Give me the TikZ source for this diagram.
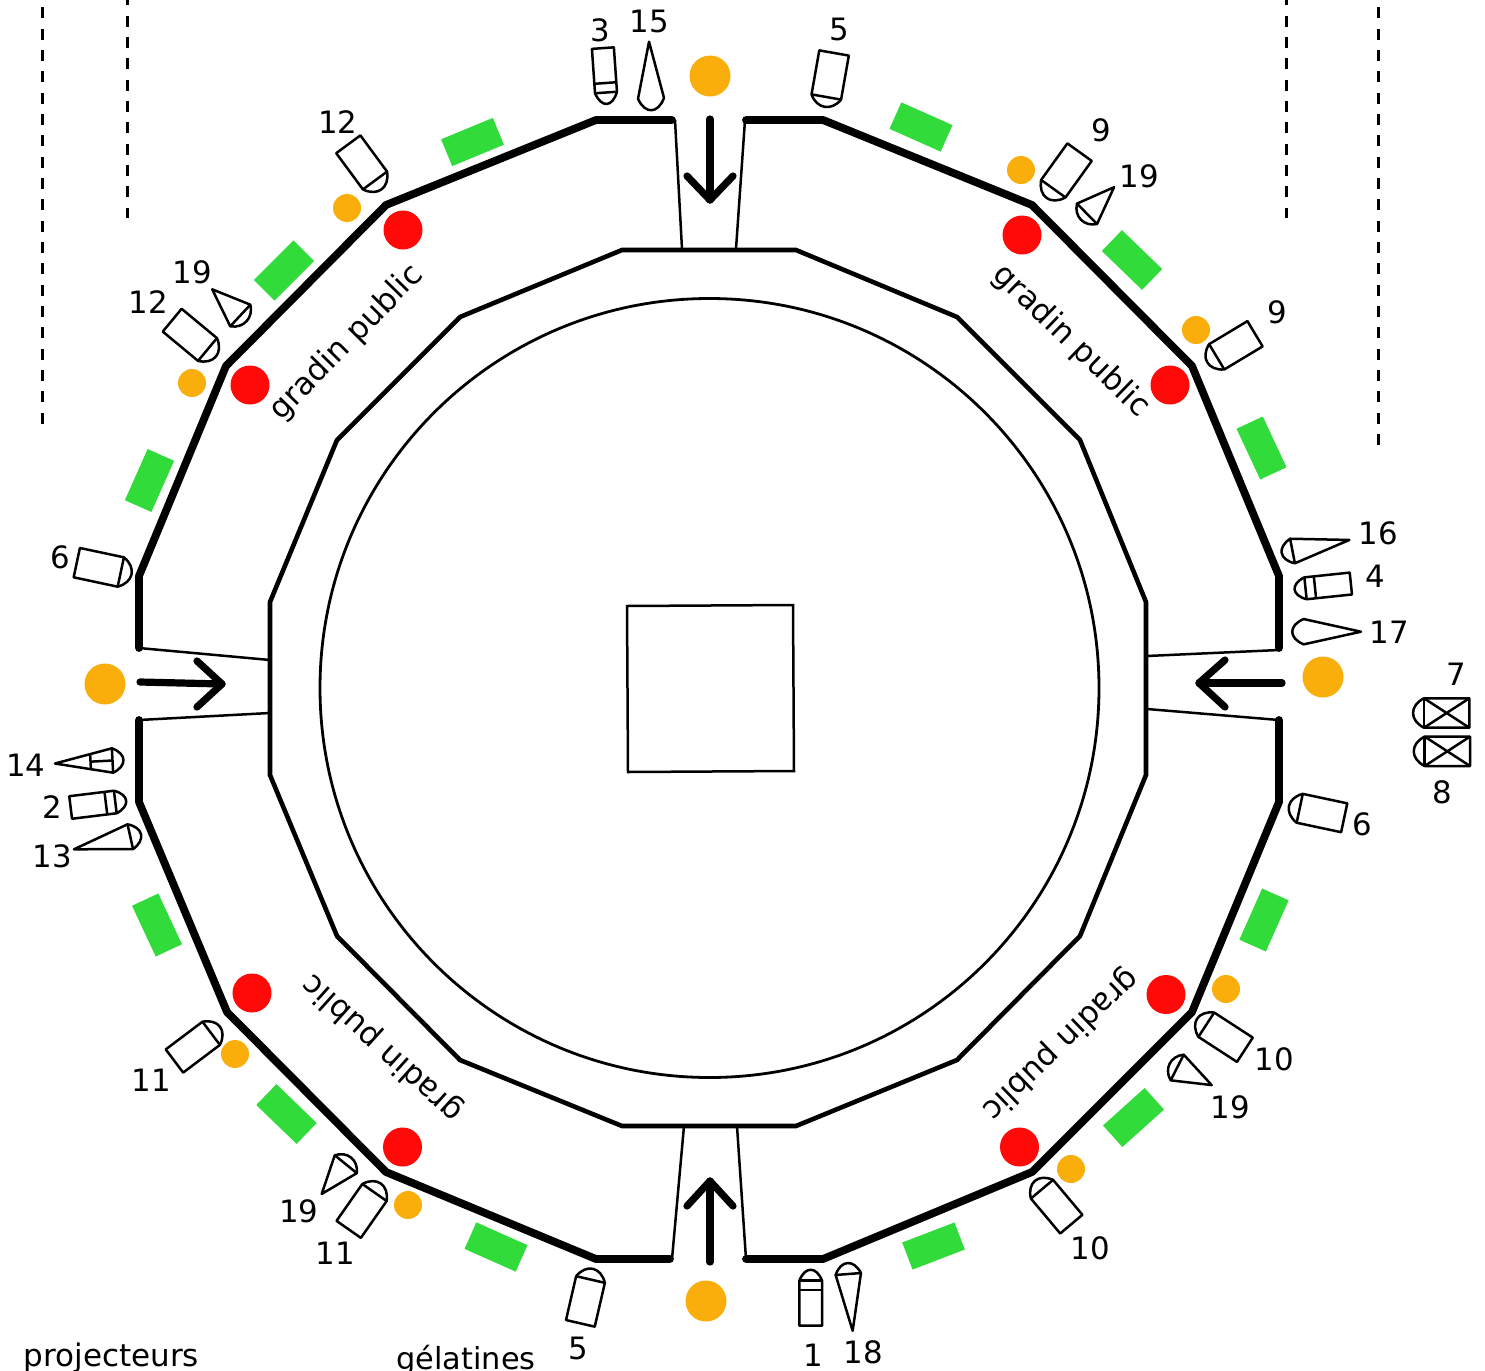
\documentclass[tikz,border=0pt]{standalone}
\usepackage{fontspec}
\setmainfont{DejaVu Sans}
\definecolor{amber}{HTML}{F9AE0C}
\definecolor{redlamp}{HTML}{FF0909}
\definecolor{gel}{HTML}{31DC3A}
\tikzset{
  wall/.style={line width=3.9pt,line cap=round,line join=round},
  inner wall/.style={line width=2.3pt,line join=miter},
  thin wall/.style={line width=1.25pt},
  way/.style={line width=3.6pt,line cap=round,line join=round},
  fix/.style={line width=1.25pt,line join=round,fill=white},
  fixl/.style={line width=1.25pt},
  lbl/.style={font=\fontsize{15.4pt}{18pt}\selectfont,inner sep=0pt},
  pub/.style={font=\fontsize{15.6pt}{18pt}\selectfont,inner sep=0pt},
  dash line/.style={line width=1.5pt,dash pattern=on 5.5pt off 5.17pt},
}
\newcommand{\dome}[2]{.. controls (1.33*#2,0.5*#1/2) and (1.33*#2,-0.5*#1/2) .. (0,-#1/2)}
% x y angle L W h
\newcommand{\lampbox}[6]{\begin{scope}[shift={(#1,#2)},rotate=#3]
  \draw[fix] (0,#5/2) \dome{#5}{#6} -- (-#4,-#5/2) -- (-#4,#5/2) -- cycle;
  \draw[fixl] (0,#5/2) -- (0,-#5/2);
\end{scope}}
\newcommand{\lampbar}[6]{\begin{scope}[shift={(#1,#2)},rotate=#3]
  \draw[fix] (0,#5/2) \dome{#5}{#6} -- (-#4,-#5/2) -- (-#4,#5/2) -- cycle;
  \draw[fixl] (0,#5/2) -- (0,-#5/2);
  \draw[fixl] (-9.5,#5/2) -- (-9.5,-#5/2);
\end{scope}}
\newcommand{\lampcone}[6]{\begin{scope}[shift={(#1,#2)},rotate=#3]
  \draw[fix] (0,#5/2) \dome{#5}{#6} -- (-#4,0) -- cycle;
  \draw[fixl] (0,#5/2) -- (0,-#5/2);
\end{scope}}
\newcommand{\lampdrop}[6]{\begin{scope}[shift={(#1,#2)},rotate=#3]
  \draw[fix] (0,#5/2) \dome{#5}{#6} -- (-#4,0) -- cycle;
\end{scope}}
\newcommand{\lampcross}[6]{\begin{scope}[shift={(#1,#2)},rotate=#3]
  \draw[fix] (0,#5/2) \dome{#5}{#6} -- (-#4,-#5/2) -- (-#4,#5/2) -- cycle;
  \draw[fixl] (0,#5/2) -- (0,-#5/2);
  \draw[fixl] (0,#5/2) -- (-#4,-#5/2) (0,-#5/2) -- (-#4,#5/2);
\end{scope}}
\newcommand{\gelbar}[3]{\fill[gel,shift={(#1,#2)},rotate=#3] (-28,-14.5) rectangle (28,14.5);}
\begin{document}
\begin{tikzpicture}[x=0.5pt,y=-0.5pt]
\useasboundingbox (0,0) rectangle (1485,1371);
% dashed limits
\draw[dash line] (42.3,7.3) -- (42.3,424);
\draw[dash line] (127.7,-5.6) -- (127.7,218);
\draw[dash line] (1286,-5.6) -- (1286,218);
\draw[dash line] (1378.7,7.3) -- (1378.7,445);
% centre
\draw[line width=1.4pt] (709.5,688) circle[radius=389.5];
\draw[line width=1.25pt] (627,606) -- (793,605) -- (794,771) -- (628,772) -- cycle;
% inner polygon
\draw[inner wall] (622,250) -- (796,250) -- (957,317) -- (1080,440) -- (1146,602) -- (1146,775) -- (1080,936) -- (957,1060) -- (796,1126) -- (622,1126) -- (460,1060) -- (337,936) -- (270,775) -- (270,602) -- (337,440) -- (460,317) -- cycle;
% passages
\draw[thin wall] (675,120) -- (682,249);
\draw[thin wall] (745,120) -- (736,249);
\draw[thin wall] (139,648) -- (270,660);
\draw[thin wall] (139,720) -- (270,713);
\draw[thin wall] (672,1259) -- (684,1126);
\draw[thin wall] (746,1259) -- (737,1126);
\draw[thin wall] (1279,650) -- (1147,656);
\draw[thin wall] (1279,720) -- (1147,709);
% outer wall
\draw[wall] (672,120) -- (596,120) -- (386,205) -- (226,366) -- (139,576) -- (139,648);
\draw[wall] (139,720) -- (139,802) -- (227,1012) -- (386,1172) -- (596,1259) -- (670,1259);
\draw[wall] (746,1259) -- (823,1259) -- (1032,1172) -- (1192,1012) -- (1279,802) -- (1279,720);
\draw[wall] (1279,648) -- (1279,576) -- (1192,366) -- (1032,205) -- (823,120) -- (746,120);
% arrows
\draw[way] (710,119) -- (710,200);
\draw[way] (687,176) -- (710,200) -- (733,176);
\draw[way] (140,682) -- (222,684);
\draw[way] (197,661) -- (222,684) -- (197,707);
\draw[way] (710,1262) -- (710,1181);
\draw[way] (687,1206) -- (710,1181) -- (733,1206);
\draw[way] (1282,683) -- (1199,683);
\draw[way] (1225,660) -- (1199,683) -- (1225,707);
% green gels
\gelbar{472.5}{142}{22.5}
\gelbar{284}{270.5}{45}
\gelbar{149.5}{480.5}{66}
\gelbar{921}{127}{-24}
\gelbar{1132}{260}{-44}
\gelbar{1261.5}{448}{-65}
\gelbar{1264}{920}{66}
\gelbar{1133.5}{1117.5}{42}
\gelbar{933.5}{1246}{21}
\gelbar{496}{1247}{-24}
\gelbar{157}{925}{-65}
\gelbar{286.5}{1114}{-44}
% red lamps
\foreach \px/\py in {403/230,1022/235,1170/385,250/385,252/993,1166/994.5,402.5/1147,1019.5/1147}
  \fill[redlamp] (\px,\py) circle[radius=19.5];
% amber lamps
\foreach \px/\py in {710/76,1323/677,105/684,706/1301}
  \fill[amber] (\px,\py) circle[radius=20.5];
\foreach \px/\py in {1021/170,1196/330,347/208,192/383,1226/989,1071/1169,235/1054,408/1205}
  \fill[amber] (\px,\py) circle[radius=14];
% fixtures
\lampbar{606}{92.5}{-86}{44.5}{22}{11.5}
\lampdrop{651}{98.3}{-88}{56.6}{26}{12}
\lampbox{826.3}{97}{-100}{44.7}{30}{10}
\lampbox{1053.3}{188.7}{-125.7}{45}{30}{11.5}
\lampcone{1087}{213.8}{-135.5}{38}{28.6}{8.5}
\lampbox{1216.7}{356.8}{-149}{44.7}{29.5}{11}
\lampcone{1292.5}{551}{191}{57.9}{25}{11}
\lampbar{1305.5}{588.3}{186}{45.6}{22}{11}
\lampdrop{1303.7}{631.7}{180}{57.3}{25.3}{11.5}
\lampcross{1424}{713}{180}{45.3}{29.4}{11}
\lampcross{1424.7}{751.3}{180}{45.3}{29.4}{11}
\lampbox{1299.7}{808.3}{168}{45.5}{29.5}{11}
\lampbox{1206.3}{1024.7}{147}{46}{29}{11}
\lampcone{1177.2}{1067.5}{153}{38.7}{28.8}{8.5}
\lampbox{1042}{1189.2}{130}{45.6}{29}{11}
\lampcone{848.3}{1274}{94.4}{57}{25.4}{11}
\lampbar{810.7}{1280.7}{90}{45}{22.7}{11}
\lampbox{590.5}{1279.5}{77}{45}{29.5}{11}
\lampbox{374.5}{1192.5}{55}{45}{29.7}{11}
\lampcone{345.8}{1164.2}{51}{38.3}{28.4}{8.5}
\lampbox{211.2}{1033.3}{37}{46}{29}{11}
\lampcone{130.3}{836.7}{12.6}{57.7}{25.4}{11}
\lampbar{115.3}{802}{7}{45}{22.7}{11}
\lampcone{112.5}{760.5}{3}{57.6}{24.4}{11}
\begin{scope}[shift={(112.5,760.5)},rotate=3]
  \draw[fixl] (-22,-7.5) -- (-22,7.5);
  \draw[fixl] (-22,0) -- (0,0);
\end{scope}
\lampbox{120.8}{572}{-12}{45}{30}{11}
\lampbox{207.5}{349.5}{-39.7}{45.9}{29.6}{11}
\lampcone{240.3}{315.5}{-43}{38.4}{29.5}{8.5}
\lampbox{375}{180.5}{-53.6}{45}{30}{11}
% numbers
\node[lbl] (n3) at (600,30) {3};
\node[lbl] (n15) at (649.5,21) {15};
\node[lbl] (n5a) at (839.5,29.5) {5};
\node[lbl] (n9a) at (1101,130) {9};
\node[lbl] (n19a) at (1139,176) {19};
\node[lbl] (n9b) at (1277,312) {9};
\node[lbl] (n16) at (1378,533) {16};
\node[lbl] (n4) at (1375,576) {4};
\node[lbl] (n17) at (1389,632) {17};
\node[lbl] (n7) at (1456,674.5) {7};
\node[lbl] (n8) at (1442,792) {8};
\node[lbl] (n6a) at (1362,824) {6};
\node[lbl] (n10a) at (1274,1059) {10};
\node[lbl] (n19b) at (1230,1107) {19};
\node[lbl] (n10b) at (1090,1248) {10};
\node[lbl] (n18) at (863.5,1352) {18};
\node[lbl] (n1) at (813,1355) {1};
\node[lbl] (n5b) at (578,1348) {5};
\node[lbl] (n19c) at (299,1211) {19};
\node[lbl] (n11a) at (335.5,1253) {11};
\node[lbl] (n11b) at (151.5,1080) {11};
\node[lbl] (n13) at (52.5,856) {13};
\node[lbl] (n2) at (52,807) {2};
\node[lbl] (n14) at (26,765) {14};
\node[lbl] (n6b) at (60,557) {6};
\node[lbl] (n12a) at (148.5,302) {12};
\node[lbl] (n19d) at (192.5,272) {19};
\node[lbl] (n12b) at (338,122) {12};
% gradins
\node[pub,rotate=45.5] (g1) at (346.5,343) {gradin public};
\node[pub,rotate=-44] (g2) at (1071,341) {gradin public};
\node[pub,rotate=224] (g3) at (1060,1044) {gradin public};
\node[pub,rotate=138] (g4) at (383,1048) {gradin public};
% legend
\node[lbl,anchor=base west,font=\fontsize{15.5pt}{18pt}\selectfont] (legend1) at (23.5,1366) {projecteurs};
\node[lbl,anchor=base west,font=\fontsize{15.2pt}{18pt}\selectfont] (legend2) at (396,1369) {gélatines};
\end{tikzpicture}
\end{document}
